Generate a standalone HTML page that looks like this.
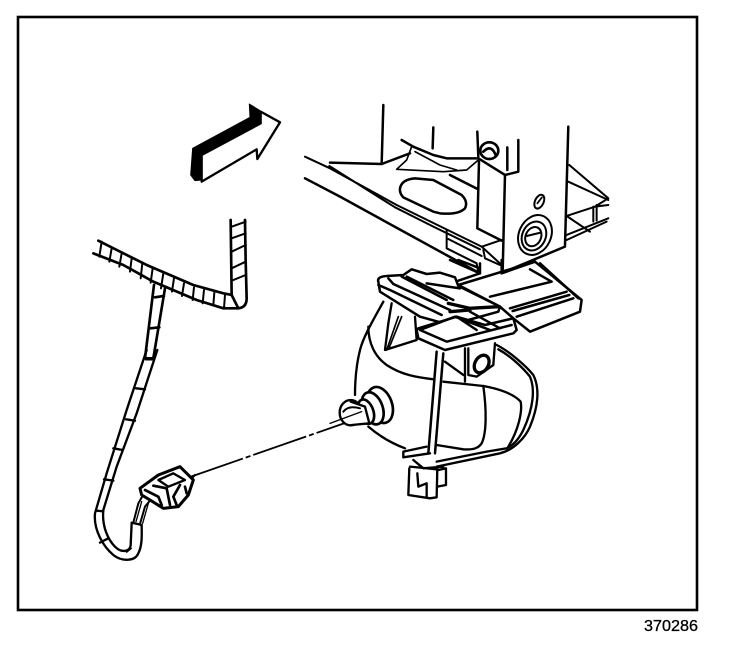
<!DOCTYPE html>
<html><head><meta charset="utf-8"><style>
html,body{margin:0;padding:0;background:#fff;width:736px;height:646px;overflow:hidden}
svg{display:block}
</style></head><body>
<svg width="736" height="646" viewBox="0 0 736 646" xmlns="http://www.w3.org/2000/svg">
<rect width="736" height="646" fill="#fff"/>
<rect x="18" y="17" width="679" height="593" fill="none" stroke="#000" stroke-width="2.6"/>
<text x="644" y="631" font-family="'Liberation Sans',sans-serif" font-size="15.5" textLength="54" lengthAdjust="spacingAndGlyphs" fill="#000" stroke="#000" stroke-width=".3">370286</text>

<!-- arrow -->
<g transform="translate(170,90) scale(.3333)" stroke-linejoin="round">
<path d="M68 175L240 82L238 42L275 65L272 100L95 195L95 270L75 272L62 255Z" fill="#000" stroke="#000" stroke-width="3"/>
<path d="M95 195L272 100L272 65L330 97L262 207L260 178L95 275Z" fill="#fff" stroke="#000" stroke-width="7"/>
</g>

<!-- upper structure -->
<g transform="translate(300,90) scale(.3333)" fill="none" stroke="#000" stroke-width="7.5" stroke-linejoin="round" stroke-linecap="round">
<path d="M250 45L245 222M90 218L245 222L330 190"/>
<path d="M305 150L340 170L400 195L440 205L530 205"/>
<path d="M335 170L320 210L290 238L430 245L500 240L535 210M345 185L420 225L470 240" stroke-width="5"/>
<path d="M400 112L398 175M532 125L535 200"/>
<ellipse cx="568" cy="182" rx="27" ry="25" stroke-width="8"/>
<path d="M550 185Q575 160 588 198" stroke-width="8"/>
<path d="M535 205L615 255L655 245L655 150M622 172L622 240"/>
<path d="M805 110L795 470M615 255L608 548M537 215L532 415L605 452M608 548L795 470"/>
<path d="M15 200L90 235L290 345L545 470L605 525M88 228L285 352L400 410L540 478" stroke-width="6"/>
<path d="M15 265L120 320L530 545"/>
<path d="M440 420L440 475L530 520L535 548M445 447L545 498M545 470L605 450M550 480L555 505L600 525" stroke-width="6"/>
<path d="M450 255L535 298"/>
<path d="M300 295Q305 268 345 265L400 270L485 315Q505 335 495 355Q475 375 420 370L400 365L310 322Q298 310 300 295Z"/>
<ellipse cx="718" cy="335" rx="13" ry="22" transform="rotate(25 718 335)" stroke-width="6"/>
<path d="M712 340L726 322" stroke-width="5"/>
<ellipse cx="705" cy="435" rx="48" ry="62" transform="rotate(25 705 435)" stroke-width="6"/>
<ellipse cx="702" cy="438" rx="35" ry="45" transform="rotate(25 702 438)" stroke-width="6"/>
<ellipse cx="700" cy="440" rx="23" ry="30" transform="rotate(25 700 440)" stroke-width="6"/>
<path d="M680 438L722 428" stroke-width="6"/>
<path d="M808 225L925 325M805 275L925 330M925 325L885 350L800 378M800 378L870 425M800 435L925 385M800 450L920 395M880 350L880 395M890 345L890 392M925 345L885 350" stroke-width="6"/>
</g>

<!-- fog lamp -->
<g transform="translate(330,260) scale(.3333)" fill="none" stroke="#000" stroke-width="7" stroke-linejoin="round" stroke-linecap="round">
<path d="M160 125C130 180 100 230 90 270C80 310 75 360 75 405"/>
<path d="M115 200C115 250 135 290 170 315C215 345 260 352 310 358"/>
<path d="M115 500C150 530 185 550 225 565"/>
<path d="M500 255C540 275 590 320 610 345C630 385 625 440 600 500C585 535 550 570 510 580L320 620"/>
<path d="M505 268C545 290 580 325 600 350C615 385 612 440 580 510C565 540 550 555 530 565L470 575L320 605"/>
<path d="M340 365L460 378C500 385 550 400 572 425C578 455 565 510 535 560"/>
<path d="M460 378C470 450 470 520 455 550C445 565 430 570 400 568L320 555"/>
<path d="M320 275L295 580M340 280L315 580" stroke-width="7.5"/>
<path d="M220 575L290 560M220 592L300 580M220 575V592"/>
<path d="M238 625L235 705L300 715L320 712L322 625M240 620L320 628M262 640L265 680L290 670L290 712M325 630L348 625L348 675L322 680M250 600L280 625L340 620"/>
<path d="M405 265L405 365M415 265L415 345L440 350L490 315L495 250M345 305L400 345"/>
<ellipse cx="455" cy="312" rx="20" ry="28" transform="rotate(30 455 312)" stroke-width="10"/>
<path d="M185 130L175 190L165 270L260 240L255 170"/>
<path d="M205 170L170 270M215 170L178 262" stroke-width="5"/>
<ellipse cx="150" cy="435" rx="36" ry="56" transform="rotate(-20 150 435)" fill="#fff" stroke-width="8"/>
<ellipse cx="128" cy="445" rx="30" ry="50" transform="rotate(-20 128 445)" fill="#fff" stroke-width="8"/>
<ellipse cx="108" cy="455" rx="22" ry="38" transform="rotate(-20 108 455)" fill="#fff" stroke-width="8"/>
<ellipse cx="62" cy="458" rx="33" ry="38" fill="#fff"/>
<path d="M62 425L105 440L118 490L65 495" fill="#fff"/>
<path d="M40 455Q55 435 90 445" stroke-width="6"/>
<path d="M0 490L95 455" stroke-width="4"/>
</g>

<!-- plate -->
<g transform="translate(370,260) scale(.3333)" fill="#fff" stroke="#000" stroke-width="7.5" stroke-linejoin="round" stroke-linecap="round">
<path d="M265 75L495 5L635 120L630 155L480 215L430 175L390 140Z"/>
<path d="M25 65Q20 50 50 48L100 45L125 28L170 42L210 38L255 52L265 78L390 140L385 155L240 195L150 170L30 95Z"/>
<path d="M140 210L145 235L225 270L430 220L440 210L430 175L345 195L260 170L145 205Z"/>
<g fill="none">
<path d="M360 110L545 65M420 145L590 95M428 153L598 105M440 170L610 115M480 28L545 65M510 10L625 115"/>
<path d="M25 75L60 90L215 165M55 55L70 72L240 150M95 50L230 120M110 50L250 120M170 70L270 85"/>
<path d="M150 210L230 245L425 195M150 210L255 170L360 210M260 170L320 210M300 155L390 205"/>
<path d="M235 130L300 145L385 140M240 155L300 150" stroke-width="10"/>
<path d="M240 0L330 40M265 0L330 25M330 10L330 40L265 62M395 0L395 40M395 40L495 5"/>
</g>
</g>

<!-- guide line -->
<path d="M190 477L345 423" fill="none" stroke="#000" stroke-width="1.8" stroke-dasharray="56 3 5 3"/>

<!-- harness top -->
<g transform="translate(80,210) scale(.3333)" fill="none" stroke="#000" stroke-width="8" stroke-linejoin="round" stroke-linecap="round">
<path d="M55 92L200 165L340 225L430 250L455 255"/>
<path d="M40 130L130 165L220 215L350 270L430 295H470Q500 295 500 265L497 150L495 30"/>
<path d="M452 30L455 255L475 295"/>
<path d="M65 95L58 140M95 115L88 155M125 130L118 170M155 145L150 185M187 160L182 205M218 175L212 218M250 190L243 235M282 205L276 245M312 220L306 258M342 232L338 270M372 240L368 280M403 248L400 285M435 255L432 295M455 212L497 195M455 175L497 155M455 125L497 105M455 85L497 70M455 50L497 35" stroke-width="6"/>
<path d="M222 225L195 445M255 235L220 445M195 445L220 445M225 262L252 258M212 355L238 352"/>
</g>

<!-- harness lower -->
<g transform="translate(80,350) scale(.3333)" fill="none" stroke="#000" stroke-width="7" stroke-linejoin="round" stroke-linecap="round">
<path d="M200 0L140 180L80 370L45 490C40 540 70 590 100 615C125 635 165 635 175 610C188 585 185 550 185 525"/>
<path d="M232 0L170 190L110 350L70 480C65 530 85 570 105 590C125 610 150 605 152 585L155 520"/>
<path d="M198 28L222 28M168 115L195 118M138 208L165 212M100 295L128 300M72 388L100 392M48 482L70 484M60 578L85 565M140 605L152 595M155 518L185 525"/>
<path d="M160 518L175 460L195 425M180 522L195 470L220 440" stroke-width="6"/>
<path d="M168 515L185 455M188 520L205 460" stroke-width="4"/>
</g>

<!-- connector -->
<g transform="translate(130,455) scale(.3333)" fill="none" stroke="#000" stroke-linejoin="round" stroke-linecap="round">
<path d="M30 100L85 60L150 35L190 75L175 120L145 155L100 160L60 135L35 120Z" fill="#fff" stroke-width="9"/>
<path d="M85 75L130 55L165 75L115 95Z" fill="#fff" stroke-width="7"/>
<path d="M70 92L110 100L120 150M150 90L130 125L140 150M45 105L85 125L95 150M165 95L170 115" stroke-width="8"/>
<path d="M185 70L195 60" stroke-width="6"/>
</g>
</svg>
</body></html>
